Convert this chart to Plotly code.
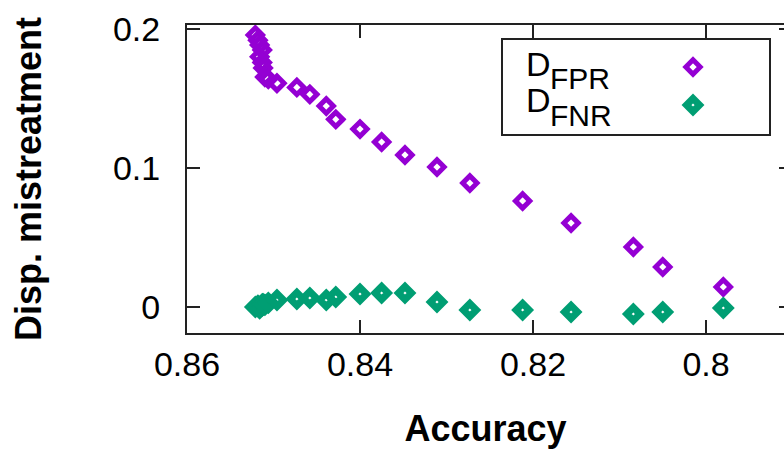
import plotly.graph_objects as go

# ---- data ----
accuracy = [0.8521, 0.8518, 0.8516, 0.8513, 0.8516, 0.8513, 0.8512, 0.8510,
            0.8506, 0.8496, 0.8473, 0.8458, 0.8439, 0.8428, 0.8400, 0.8375,
            0.8348, 0.8311, 0.8273, 0.8212, 0.8156, 0.8084, 0.8050, 0.7980]
d_fpr = [0.1957, 0.1920, 0.1885, 0.1850, 0.1800, 0.1760, 0.1720, 0.1655,
         0.1640, 0.1610, 0.1580, 0.1530, 0.1446, 0.1350, 0.1280, 0.1187,
         0.1094, 0.1007, 0.0892, 0.0763, 0.0604, 0.0432, 0.0288, 0.0144]
d_fnr = [0.0000, 0.0010, -0.0010, 0.0020, 0.0000, 0.0010, 0.0020, 0.0015,
         0.0030, 0.0050, 0.0058, 0.0065, 0.0050, 0.0072, 0.0094, 0.0101,
         0.0101, 0.0036, -0.0022, -0.0022, -0.0036, -0.0050, -0.0036, -0.0007]
series_names = ["FPR", "FNR"]
x_tickvals = [0.86, 0.84, 0.82, 0.80]
x_ticktext = ["0.86", "0.84", "0.82", "0.8"]
y_tickvals = [0.0, 0.1, 0.2]
y_ticktext = ["0", "0.1", "0.2"]

# ---- styling / layout ----
W, H = 784, 449
L, R, T, B = 187, 784, 25, 333
PURPLE = "#9400D3"
GREEN = "#009E73"
FONT = "Liberation Sans, Arial, Helvetica, sans-serif"
AXC = "#222222"

def px_x(px):
    return (px - L) / (R - L)

def px_y(py):
    return (B - py) / (B - T)

purple_marker = dict(symbol="diamond-open", size=11, color=PURPLE,
                     line=dict(width=5, color=PURPLE))
green_marker = dict(symbol="diamond-open", size=10, color=GREEN,
                    line=dict(width=7, color=GREEN))

fig = go.Figure()
fig.add_trace(go.Scatter(x=accuracy, y=d_fpr, mode="markers", name="D_FPR",
                         showlegend=False, marker=purple_marker))
fig.add_trace(go.Scatter(x=accuracy, y=d_fnr, mode="markers", name="D_FNR",
                         showlegend=False, marker=green_marker))

# legend sample markers (on a hidden overlay axis in plot-fraction units)
fig.add_trace(go.Scatter(x=[px_x(693)], y=[px_y(67)], xaxis="x2", yaxis="y2",
                         mode="markers", showlegend=False, hoverinfo="skip",
                         marker=purple_marker))
fig.add_trace(go.Scatter(x=[px_x(693)], y=[px_y(105)], xaxis="x2", yaxis="y2",
                         mode="markers", showlegend=False, hoverinfo="skip",
                         marker=green_marker))

annotations = []
for name, dy in zip(series_names, [0, 37]):
    annotations.append(dict(
        text="D", xref="paper", yref="paper", x=px_x(524), y=px_y(63.5 + dy),
        xanchor="left", yanchor="middle", showarrow=False,
        font=dict(family=FONT, size=34, color="black")))
    annotations.append(dict(
        text=name, xref="paper", yref="paper", x=px_x(548), y=px_y(78.5 + dy),
        xanchor="left", yanchor="middle", showarrow=False,
        font=dict(family=FONT, size=30, color="black")))

fig.update_layout(
    width=W, height=H,
    margin=dict(l=L, r=W - R, t=T, b=H - B, pad=0),
    paper_bgcolor="white", plot_bgcolor="white",
    font=dict(family=FONT, size=34, color="black"),
    showlegend=False,
    annotations=annotations,
    shapes=[dict(type="rect", xref="paper", yref="paper",
                 x0=px_x(502), x1=px_x(770), y0=px_y(135), y1=px_y(39),
                 line=dict(color=AXC, width=2), fillcolor="rgba(0,0,0,0)")],
    xaxis=dict(
        range=[0.86, 0.86 - (R - L) / 8650.0],
        tickvals=x_tickvals, ticktext=x_ticktext,
        ticks="inside", ticklen=13, tickwidth=1.5, tickcolor=AXC,
        showline=True, linecolor=AXC, linewidth=2, mirror="ticks",
        showgrid=False, zeroline=False,
        ticklabelstandoff=0,
        tickfont=dict(family=FONT, size=34, color="black"),
        title=dict(text="<b>Accuracy</b>", standoff=34,
                   font=dict(family=FONT, size=36, color="black")),
    ),
    yaxis=dict(
        range=[-0.0187, 0.2029],
        tickvals=y_tickvals, ticktext=y_ticktext,
        ticks="inside", ticklen=13, tickwidth=1.5, tickcolor=AXC,
        showline=True, linecolor=AXC, linewidth=2, mirror=False,
        showgrid=False, zeroline=False,
        ticklabelstandoff=18,
        tickfont=dict(family=FONT, size=34, color="black"),
        title=dict(text="<b>Disp. mistreatment</b>", standoff=60,
                   font=dict(family=FONT, size=36, color="black")),
    ),
    yaxis3=dict(
        overlaying="y", side="right", anchor="x",
        range=[-0.0187, 0.2029], tickvals=y_tickvals,
        ticks="inside", ticklen=5, tickwidth=1.5, tickcolor=AXC,
        showticklabels=False, showline=False, showgrid=False, zeroline=False,
    ),
    xaxis2=dict(overlaying="x", range=[0, 1], visible=False),
    yaxis2=dict(overlaying="y", range=[0, 1], visible=False),
)
# invisible trace so the right-hand tick axis renders
fig.add_trace(go.Scatter(x=[accuracy[0]], y=[d_fpr[0]], yaxis="y3",
                         mode="markers", marker=dict(opacity=0),
                         showlegend=False, hoverinfo="skip"))

fig.write_html("out.html",
               config={"displayModeBar": False},
               post_script="document.body.style.margin='0';"
                           "document.body.style.overflow='hidden';")
